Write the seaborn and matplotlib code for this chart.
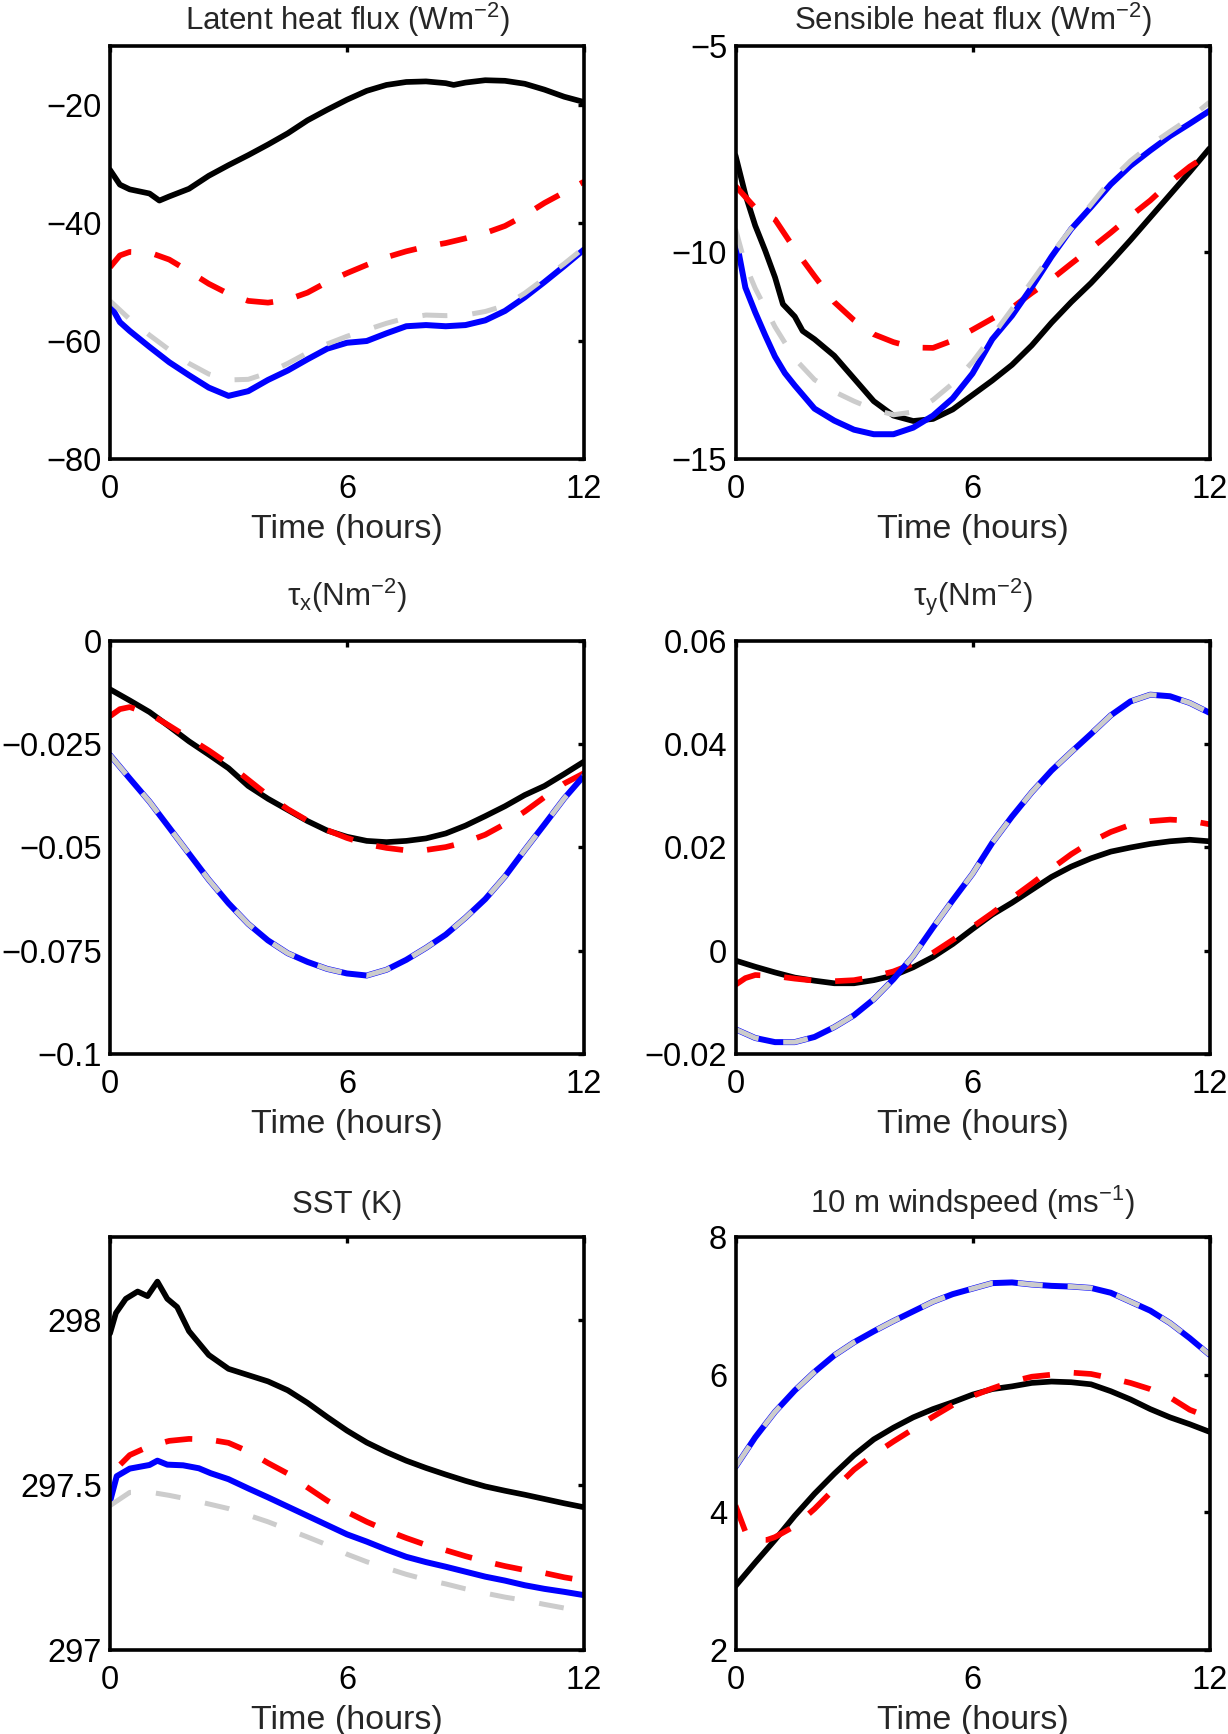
import numpy as np
import matplotlib
matplotlib.use('Agg')
import matplotlib.pyplot as plt
from matplotlib.ticker import FuncFormatter
import seaborn as sns

# ---- data (time in hours) ----
t_half = [0, 0.5, 1, 1.5, 2, 2.5, 3, 3.5, 4, 4.5, 5, 5.5, 6, 6.5, 7, 7.5, 8, 8.5, 9, 9.5, 10, 10.5, 11, 11.5, 12]
t_q = [0, 0.25, 0.5, 1, 1.5, 2, 2.5, 3, 3.5, 4, 4.5, 5, 5.5, 6, 6.5, 7, 7.5, 8, 8.5, 9, 9.5, 10, 10.5, 11, 11.5, 12]

# latent heat flux
lhf_t_black = [0, 0.25, 0.5, 1.0, 1.25, 1.5, 2.0, 2.5, 3.0, 3.5, 4.0, 4.5, 5.0, 5.5, 6.0, 6.5, 7.0, 7.5, 8.0, 8.5, 8.7, 9.0, 9.5, 10.0, 10.5, 11.0, 11.5, 12.0]
lhf_black = [-31, -33.5, -34.3, -35.0, -36.2, -35.5, -34.2, -32.0, -30.2, -28.5, -26.7, -24.8, -22.6, -20.8, -19.1, -17.6, -16.6, -16.1, -16.0, -16.3, -16.6, -16.2, -15.8, -15.9, -16.4, -17.4, -18.6, -19.5]
lhf_red = [-47.5, -45.5, -44.9, -45.0, -46.2, -48.2, -50.3, -52.0, -53.2, -53.5, -53.0, -51.8, -50.0, -48.5, -47.1, -45.8, -44.8, -44.0, -43.4, -42.6, -41.7, -40.5, -38.7, -36.6, -34.8, -33.0]
lhf_blue = [-53.8, -56.8, -58.3, -61.0, -63.6, -65.8, -67.9, -69.3, -68.5, -66.6, -65.0, -63.1, -61.3, -60.3, -60.0, -58.7, -57.5, -57.3, -57.5, -57.3, -56.5, -54.9, -52.6, -50.0, -47.3, -44.5]
lhf_gray = [-53.2, -56.3, -59.0, -61.5, -63.8, -65.6, -66.6, -66.5, -65.4, -63.8, -62.0, -60.5, -59.2, -58.1, -57.0, -56.1, -55.6, -55.7, -55.6, -55.0, -54.0, -51.9, -49.4, -46.9, -44.2]

# sensible heat flux
shf_t_black = [0, 0.25, 0.5, 0.75, 1.0, 1.2, 1.5, 1.7, 2.0, 2.5, 3.0, 3.5, 4.0, 4.5, 5.0, 5.5, 6.0, 6.5, 7.0, 7.5, 8.0, 8.5, 9.0, 9.5, 10.0, 10.5, 11.0, 11.5, 12.0]
shf_black = [-7.65, -8.6, -9.35, -9.95, -10.6, -11.25, -11.55, -11.9, -12.1, -12.5, -13.05, -13.6, -13.95, -14.08, -14.03, -13.8, -13.45, -13.1, -12.72, -12.25, -11.7, -11.2, -10.74, -10.23, -9.7, -9.15, -8.6, -8.05, -7.48]
shf_red = [-8.39, -8.92, -9.2, -9.92, -10.57, -11.2, -11.64, -11.98, -12.17, -12.3, -12.31, -12.13, -11.87, -11.6, -11.34, -10.98, -10.65, -10.27, -9.9, -9.52, -9.12, -8.74, -8.3, -7.92, -7.61]
shf_t_blue = [0, 0.1, 0.25, 0.5, 0.75, 1.0, 1.25, 1.5, 2.0, 2.5, 3.0, 3.5, 4.0, 4.5, 5.0, 5.5, 6.0, 6.5, 7.0, 7.5, 8.0, 8.5, 9.0, 9.5, 10.0, 10.5, 11.0, 11.5, 12.0]
shf_blue = [-9.55, -10.1, -10.85, -11.45, -12.0, -12.52, -12.92, -13.22, -13.78, -14.07, -14.29, -14.4, -14.4, -14.24, -13.95, -13.53, -12.93, -12.1, -11.53, -10.84, -10.1, -9.43, -8.9, -8.35, -7.9, -7.53, -7.18, -6.88, -6.57]
shf_gray = [-9.43, -10.3, -10.87, -11.8, -12.57, -13.08, -13.37, -13.6, -13.8, -13.93, -13.86, -13.57, -13.17, -12.65, -12.02, -11.37, -10.7, -10.04, -9.42, -8.84, -8.25, -7.78, -7.4, -7.07, -6.75, -6.36]

# tau_x
taux_black = [-0.0117, -0.0144, -0.0172, -0.0207, -0.0243, -0.0275, -0.0308, -0.0351, -0.0382, -0.0409, -0.0436, -0.0459, -0.0474, -0.0484, -0.0487, -0.0484, -0.0478, -0.0466, -0.0447, -0.0424, -0.04, -0.0373, -0.0351, -0.0322, -0.0292]
taux_red = [-0.0182, -0.0165, -0.016, -0.0176, -0.0205, -0.0235, -0.0265, -0.0298, -0.0336, -0.0374, -0.0407, -0.0435, -0.0458, -0.0477, -0.0492, -0.0501, -0.0507, -0.0506, -0.0499, -0.0487, -0.0469, -0.0443, -0.0413, -0.0378, -0.0345, -0.032]
taux_blue = [-0.0276, -0.0333, -0.0389, -0.0452, -0.0515, -0.0578, -0.0635, -0.0685, -0.0725, -0.0756, -0.0777, -0.0794, -0.0805, -0.081, -0.0796, -0.0772, -0.0743, -0.0711, -0.067, -0.0625, -0.057, -0.0506, -0.0444, -0.0381, -0.0326]
taux_gray = [-0.0276, -0.0333, -0.0389, -0.0452, -0.0515, -0.0578, -0.0635, -0.0685, -0.0725, -0.0756, -0.0777, -0.0794, -0.0805, -0.081, -0.0796, -0.0772, -0.0743, -0.0711, -0.067, -0.0625, -0.057, -0.0506, -0.0444, -0.0381, -0.0326]

# tau_y
tauy_black = [-0.0019, -0.0031, -0.0042, -0.0052, -0.0058, -0.0063, -0.0063, -0.0057, -0.0048, -0.0032, -0.0012, 0.0013, 0.0042, 0.007, 0.0093, 0.0118, 0.0143, 0.0163, 0.0179, 0.0192, 0.02, 0.0207, 0.0212, 0.0215, 0.0212]
tauy_red = [-0.0066, -0.0053, -0.0047, -0.0049, -0.0054, -0.0058, -0.0059, -0.0057, -0.005, -0.004, -0.0025, -0.0004, 0.0021, 0.0046, 0.0073, 0.0102, 0.013, 0.0159, 0.0187, 0.0211, 0.023, 0.0244, 0.0251, 0.0254, 0.0252, 0.0245]
tauy_blue = [-0.0152, -0.0169, -0.0177, -0.0177, -0.0167, -0.0148, -0.0125, -0.0094, -0.0055, -0.001, 0.0045, 0.0098, 0.0149, 0.0209, 0.026, 0.0307, 0.0349, 0.0385, 0.042, 0.0456, 0.0483, 0.0496, 0.0493, 0.048, 0.0461]
tauy_gray = [-0.0152, -0.0169, -0.0177, -0.0177, -0.0167, -0.0148, -0.0125, -0.0094, -0.0055, -0.001, 0.0045, 0.0098, 0.0149, 0.0209, 0.026, 0.0307, 0.0349, 0.0385, 0.042, 0.0456, 0.0483, 0.0496, 0.0493, 0.048, 0.0461]

# SST
sst_t_black = [0, 0.15, 0.4, 0.7, 0.95, 1.2, 1.45, 1.7, 2.0, 2.5, 3.0, 3.5, 4.0, 4.5, 5.0, 5.5, 6.0, 6.5, 7.0, 7.5, 8.0, 8.5, 9.0, 9.5, 10.0, 10.5, 11.0, 11.5, 12.0]
sst_black = [297.958, 298.02, 298.063, 298.085, 298.071, 298.115, 298.063, 298.038, 297.965, 297.893, 297.851, 297.832, 297.813, 297.786, 297.748, 297.705, 297.664, 297.628, 297.599, 297.573, 297.551, 297.531, 297.512, 297.495, 297.482, 297.47, 297.457, 297.444, 297.432]
sst_red = [297.50, 297.56, 297.59, 297.617, 297.633, 297.639, 297.637, 297.627, 297.601, 297.566, 297.534, 297.492, 297.452, 297.418, 297.388, 297.362, 297.339, 297.318, 297.302, 297.284, 297.268, 297.254, 297.242, 297.233, 297.22, 297.21]
sst_t_blue = [0, 0.17, 0.5, 1.0, 1.2, 1.45, 1.85, 2.25, 2.55, 3.0, 3.5, 4.0, 4.5, 5.0, 5.5, 6.0, 6.5, 7.0, 7.5, 8.0, 8.5, 9.0, 9.5, 10.0, 10.5, 11.0, 11.5, 12.0]
sst_blue = [297.449, 297.526, 297.549, 297.56, 297.573, 297.561, 297.559, 297.55, 297.535, 297.517, 297.489, 297.462, 297.434, 297.406, 297.378, 297.35, 297.328, 297.304, 297.282, 297.266, 297.252, 297.237, 297.222, 297.21, 297.196, 297.185, 297.176, 297.166]
sst_gray = [297.437, 297.477, 297.478, 297.468, 297.456, 297.442, 297.428, 297.408, 297.388, 297.365, 297.342, 297.318, 297.29, 297.267, 297.248, 297.229, 297.213, 297.2, 297.185, 297.172, 297.16, 297.15, 297.138, 297.127, 297.116]

# 10 m wind speed
ws_black = [2.93, 3.27, 3.6, 3.95, 4.27, 4.56, 4.83, 5.06, 5.23, 5.38, 5.5, 5.6, 5.71, 5.79, 5.83, 5.88, 5.9, 5.89, 5.86, 5.76, 5.64, 5.5, 5.38, 5.28, 5.17]
ws_t_red = [0, 0.25, 0.5, 0.8, 1.0, 1.5, 2.0, 2.5, 3.0, 3.5, 4.0, 4.5, 5.0, 5.5, 6.0, 6.5, 7.0, 7.5, 8.0, 8.5, 9.0, 9.5, 10.0, 10.5, 11.0, 11.5, 12.0]
ws_red = [4.1, 3.72, 3.6, 3.6, 3.64, 3.8, 4.05, 4.34, 4.62, 4.84, 5.03, 5.21, 5.39, 5.56, 5.69, 5.8, 5.9, 5.97, 6.0, 6.03, 6.01, 5.95, 5.88, 5.79, 5.67, 5.49, 5.38]
ws_blue = [4.66, 5.09, 5.46, 5.77, 6.04, 6.28, 6.47, 6.63, 6.78, 6.92, 7.06, 7.17, 7.25, 7.33, 7.34, 7.31, 7.29, 7.28, 7.26, 7.19, 7.06, 6.93, 6.75, 6.53, 6.29]
ws_gray = [4.66, 5.09, 5.46, 5.77, 6.04, 6.28, 6.47, 6.63, 6.78, 6.92, 7.06, 7.17, 7.25, 7.33, 7.34, 7.31, 7.29, 7.28, 7.26, 7.19, 7.06, 6.93, 6.75, 6.53, 6.29]

titles = ['Latent heat flux (Wm$^{-2}$)', 'Sensible heat flux (Wm$^{-2}$)',
          r'$\tau_x$(Nm$^{-2}$)', r'$\tau_y$(Nm$^{-2}$)',
          'SST (K)', '10 m windspeed (ms$^{-1}$)']

sns.set_style('white')
plt.rcParams['font.family'] = ['Liberation Sans', 'DejaVu Sans']
plt.rcParams['mathtext.fontset'] = 'custom'
plt.rcParams['mathtext.rm'] = 'Liberation Sans'
plt.rcParams['mathtext.it'] = 'Liberation Sans'
plt.rcParams['mathtext.bf'] = 'Liberation Sans:bold'
plt.rcParams['axes.unicode_minus'] = True

fig = plt.figure(figsize=(12.28, 17.34), dpi=100)

W, H = 1228.0, 1734.0
col_left = [110 / W, 735.5 / W]
col_w = 474 / W
row_bottom = [1 - 459 / H, 1 - 1054 / H, 1 - 1650 / H]
row_h = 413 / H

panels = [
    dict(black=(lhf_t_black, lhf_black), red=(t_q, lhf_red), blue=(t_q, lhf_blue), gray=(t_half, lhf_gray),
         ylim=(-80, -10), yticks=[-80, -60, -40, -20], pad=11.5),
    dict(black=(shf_t_black, shf_black), red=(t_half, shf_red), blue=(shf_t_blue, shf_blue), gray=(t_q, shf_gray),
         ylim=(-15, -5), yticks=[-15, -10, -5], pad=11.5),
    dict(black=(t_half, taux_black), red=(t_q, taux_red), blue=(t_half, taux_blue), gray=(t_half, taux_gray),
         ylim=(-0.1, 0), yticks=[-0.1, -0.075, -0.05, -0.025, 0], pad=25),
    dict(black=(t_half, tauy_black), red=(t_q, tauy_red), blue=(t_half, tauy_blue), gray=(t_half, tauy_gray),
         ylim=(-0.02, 0.06), yticks=[-0.02, 0, 0.02, 0.04, 0.06], pad=25),
    dict(black=(sst_t_black, sst_black), red=(t_q, sst_red), blue=(sst_t_blue, sst_blue), gray=(t_half, sst_gray),
         ylim=(297, 298.25), yticks=[297, 297.5, 298], pad=17, red_offset=5),
    dict(black=(t_half, ws_black), red=(ws_t_red, ws_red), blue=(t_half, ws_blue), gray=(t_half, ws_gray),
         ylim=(2, 8), yticks=[2, 4, 6, 8], pad=17),
]


def minus_fmt(v, pos):
    return f'{v:g}'.replace('-', '\u2212')


for i, p in enumerate(panels):
    r, c = divmod(i, 2)
    ax = fig.add_axes([col_left[c], row_bottom[r], col_w, row_h])

    sns.lineplot(x=p['black'][0], y=p['black'][1], ax=ax, color='black', linewidth=4.1)
    sns.lineplot(x=p['red'][0], y=p['red'][1], ax=ax, color='#ff0000', linewidth=4.1,
                 linestyle=(p.get('red_offset', 0), (4.8, 4.2)))
    sns.lineplot(x=p['blue'][0], y=p['blue'][1], ax=ax, color='#0000ff', linewidth=4.3)
    sns.lineplot(x=p['gray'][0], y=p['gray'][1], ax=ax, color='#cccccc', linewidth=3.6,
                 linestyle=(0, (5.0, 5.0)))

    ax.set_xlim(0, 12)
    ax.set_ylim(*p['ylim'])
    ax.set_xticks([0, 6, 12])
    ax.set_yticks(p['yticks'])
    ax.yaxis.set_major_formatter(FuncFormatter(minus_fmt))
    ax.xaxis.set_major_formatter(FuncFormatter(minus_fmt))
    ax.tick_params(direction='in', top=True, right=True, length=4, width=2.4,
                   labelsize=23.5, colors='black')
    ax.tick_params(axis='x', pad=11)
    ax.tick_params(axis='y', pad=6)
    for s in ax.spines.values():
        s.set_linewidth(2.6)
        s.set_color('black')
        s.set_visible(True)
    ax.set_xlabel('Time (hours)', fontsize=24.5, labelpad=6)
    ax.set_ylabel('')
    ax.set_title(titles[i], fontsize=22.5, pad=p['pad'])

fig.savefig('out.png', dpi=100)
